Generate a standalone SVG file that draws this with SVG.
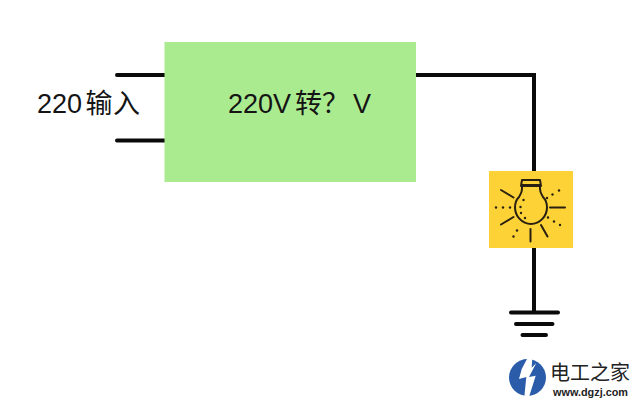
<svg xmlns="http://www.w3.org/2000/svg" width="640" height="404" viewBox="0 0 640 404">
<style>
.wire{fill:none;stroke:#0a0a0a;stroke-width:4;stroke-linecap:round}
.lab{font-family:"Liberation Sans","Noto Sans CJK SC",sans-serif;font-size:27px;fill:#141414}
.ic{fill:none;stroke:#2a2012;stroke-width:2;stroke-linecap:round;stroke-linejoin:round}
.dot{fill:#2a2012}
</style>
<rect width="640" height="404" fill="#fff"/>
<g id="connectors">
<path class="wire" d="M117 75H165M117 140.500H165"/>
<path class="wire" d="M416 75H534V172M534 247V312"/>
</g>
<g id="converter">
<rect x="164.500" y="42" width="251.500" height="140" fill="#abeb90"/>
<text class="lab" x="228" y="113">220V<tspan x="295">转</tspan><tspan x="322" word-spacing="-3.500">？ V</tspan></text>
</g>
<g id="input-label">
<text class="lab" x="37" y="113">220<tspan x="85.500">输</tspan><tspan x="113">入</tspan></text>
</g>
<g id="lamp">
<rect x="489" y="171" width="84" height="77" fill="#fdd236"/>
<path class="ic" d="M522 180H540L541 186H521ZM522 186L522 189M540 186L540 189M522 185H540M522 189C522 193 520 195 519 197C516 200 515 204 515 207.500C515 216 522 224 531 224C540 224 547 216 547 207.500C547 204 546 200 543 197C542 195 540 193 540 189"/>
<path class="ic" d="M501 190L513.500 197.500M550 207.500H565M501 224.500L513.500 217M530.500 229V241.500M541 225L547.500 236.500"/>
<g class="dot">
<circle cx="496" cy="207.500" r="1.200"/><circle cx="503" cy="207.500" r="1.200"/><circle cx="510" cy="207.500" r="1.200"/>
<circle cx="547" cy="198" r="1.200"/><circle cx="552.500" cy="194.500" r="1.200"/><circle cx="559" cy="190.500" r="1.200"/>
<circle cx="548" cy="217.500" r="1.200"/><circle cx="554" cy="221.500" r="1.200"/><circle cx="560" cy="225" r="1.200"/>
<circle cx="517" cy="230.500" r="1.200"/><circle cx="513.500" cy="236.500" r="1.200"/>
<circle cx="523.500" cy="200" r="1.200"/><circle cx="520.500" cy="207" r="1.200"/><circle cx="521" cy="213" r="1.200"/><circle cx="525" cy="218" r="1.200"/>
</g>
</g>
<g id="ground">
<path class="wire" d="M511 312.500H558M516 324H552.500M522.500 335H546"/>
</g>
<g id="logo">
<circle cx="527.500" cy="377.500" r="18.500" fill="#2a5caa"/>
<path d="M527.700 357.700L521.700 369L519 379L526.300 377L524.300 397L529 397L535.700 375.700L529 377L536.300 363L531.700 367.700L532.300 358.300Z" fill="#fff"/>
<text x="550" y="379.500" font-family="'Noto Sans CJK SC',sans-serif" font-size="20" fill="#222">电工之家</text>
<text x="553" y="395.500" font-family="'Liberation Sans',sans-serif" font-size="11px" font-weight="700" fill="#222" textLength="75" lengthAdjust="spacingAndGlyphs">www.dgzj.com</text>
</g>
</svg>
